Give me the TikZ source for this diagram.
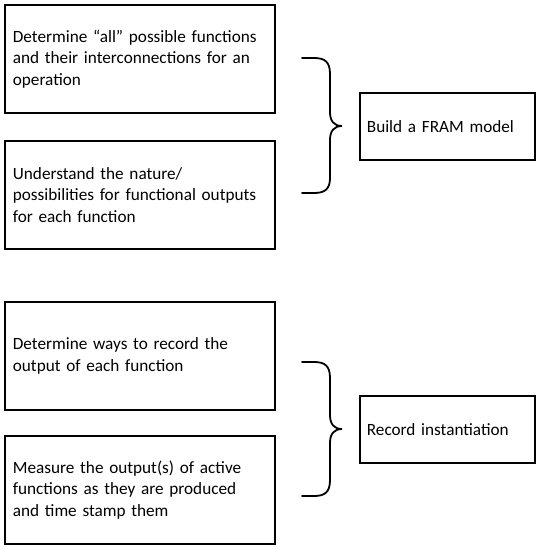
\documentclass[tikz,border=0pt]{standalone}
\usepackage{fontspec}
\setmainfont{Carlito}
\usepackage{xcolor}

\begin{document}
\begin{tikzpicture}[
    x=1pt, y=-1pt,
    every node/.style={font=\fontsize{17.2}{21.5}\selectfont},
    task box/.style={draw, line width=1.8pt, anchor=north west, align=left,
      text width=254pt, inner xsep=8pt, minimum height=108pt},
    goal box/.style={draw, line width=1.8pt, anchor=north west, align=left,
      text width=161pt, inner xsep=7pt, minimum height=67pt},
    brace line/.style={line width=1.8pt, line cap=round},
  ]

  % Page frame: 539 x 550 with y running downwards
  \useasboundingbox (0,0) rectangle (539,550);

  % --- Upper group: building the model ---
  \node[task box] (determine) at (4, 4)
    {Determine “all” possible functions\\ and their interconnections for an\\ operation};
  \node[task box] (understand) at (4, 140)
    {Understand the nature/\\ possibilities for functional outputs\\ for each function};

  % brace gathering the two upper boxes
  \draw[brace line] (302,58) -- (314,58)
    .. controls (325,58) and (330,62) .. (330,74) -- (330,112)
    .. controls (330,121) and (334,126) .. (342,126)
    .. controls (334,126) and (330,131) .. (330,140) -- (330,178)
    .. controls (330,189) and (325,193) .. (314,193) -- (302,193);

  \node[goal box] (buildframe) at (359, 92) {Build a FRAM model};

  % --- Lower group: recording the instantiation ---
  \node[task box] (waysrecord) at (4, 301)
    {Determine ways to record the\\ output of each function};
  \node[task box] (measure) at (4, 435)
    {Measure the output(s) of active\\ functions as they are produced\\ and time stamp them};

  % brace gathering the two lower boxes
  \draw[brace line] (302,362) -- (314,362)
    .. controls (325,362) and (330,366) .. (330,378) -- (330,415)
    .. controls (330,424) and (334,429) .. (342,429)
    .. controls (334,429) and (330,434) .. (330,443) -- (330,480)
    .. controls (330,492) and (325,496) .. (314,496) -- (302,496);

  \node[goal box] (recordinst) at (359, 395) {Record instantiation};

\end{tikzpicture}
\end{document}
